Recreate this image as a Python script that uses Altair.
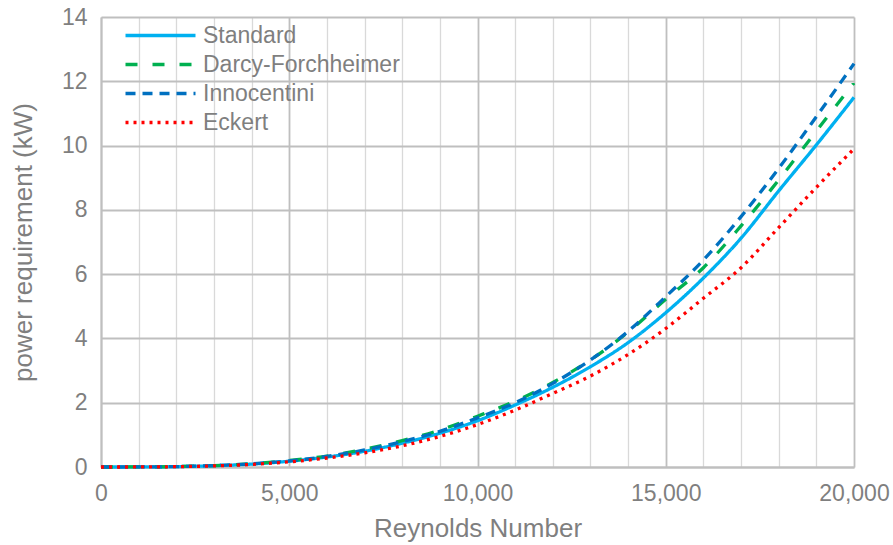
import altair as alt
import pandas as pd

reynolds = [0, 1000, 2000, 3000, 4000, 5000, 6000, 7000, 8000, 9000, 10000,
            11000, 12000, 13000, 14000, 15000, 16000, 17000, 18000, 19000, 20000]
standard = [0, 0.0014, 0.012, 0.04, 0.09, 0.18, 0.31, 0.49, 0.74, 1.05, 1.44,
            1.93, 2.48, 3.12, 3.87, 4.8, 5.88, 7.12, 8.59, 10.02, 11.5]
darcy = [0, 0.002, 0.013, 0.045, 0.10, 0.20, 0.34, 0.55, 0.82, 1.15, 1.58,
         2.05, 2.63, 3.33, 4.2, 5.22, 6.2, 7.5, 8.93, 10.45, 11.95]
innocentini = [0, 0.002, 0.013, 0.044, 0.10, 0.19, 0.33, 0.53, 0.79, 1.11, 1.53,
               2.0, 2.6, 3.33, 4.22, 5.3, 6.44, 7.79, 9.29, 10.9, 12.55]
eckert = [0, 0.0012, 0.01, 0.035, 0.08, 0.16, 0.28, 0.44, 0.66, 0.95, 1.32,
          1.77, 2.29, 2.83, 3.5, 4.31, 5.25, 6.2, 7.45, 8.7, 9.9]

series_names = ["Standard", "Darcy-Forchheimer", "Innocentini", "Eckert"]
series_values = [standard, darcy, innocentini, eckert]
colors = ["#00B0F0", "#00B050", "#0070C0", "#FF0000"]
dashes = [[1, 0], [12, 15], [10, 7], [3, 5]]

rows = []
for order, (name, vals) in enumerate(zip(series_names, series_values)):
    for x, y in zip(reynolds, vals):
        rows.append({"Re": x, "P": y, "Series": name, "ord": order})
df = pd.DataFrame(rows)

grey = "#7F7F7F"
font = "Liberation Sans"

chart = alt.Chart(df).mark_line(strokeWidth=3.3, strokeCap="butt", interpolate="monotone").encode(
    x=alt.X("Re:Q", scale=alt.Scale(domain=[0, 20000], nice=False),
            axis=alt.Axis(title="Reynolds Number", values=list(range(0, 20001, 1000)),
                          labelExpr="datum.value % 5000 === 0 ? format(datum.value, ',') : ''",
                          ticks=False, grid=True,
                          gridColor={"condition": {"test": "datum.value % 5000 === 0", "value": "#BFBFBF"},
                                     "value": "#D9D9D9"},
                          gridWidth={"condition": {"test": "datum.value % 5000 === 0", "value": 1.8},
                                     "value": 1.3},
                          domainColor="#BFBFBF", domainWidth=1.8,
                          labelFontSize=23, labelColor=grey, labelFont=font, labelPadding=15,
                          labelFlush=False, labelOverlap=False,
                          titleFontSize=26, titleColor=grey, titleFont=font, titleFontWeight="normal",
                          titlePadding=10)),
    y=alt.Y("P:Q", scale=alt.Scale(domain=[0, 14], nice=False),
            axis=alt.Axis(title="power requirement (kW)", values=list(range(0, 15, 2)),
                          ticks=False, grid=True, gridColor="#BFBFBF", gridWidth=1.8,
                          domainColor="#BFBFBF", domainWidth=1.8,
                          labelFontSize=23, labelColor=grey, labelFont=font, labelPadding=14,
                          titleFontSize=26, titleColor=grey, titleFont=font, titleFontWeight="normal",
                          titlePadding=25)),
    color=alt.Color("Series:N", scale=alt.Scale(domain=series_names, range=colors),
                    sort=series_names,
                    legend=alt.Legend(title=None, orient="none", legendX=48, legendY=7,
                                      symbolType="M-5,0H5", symbolSize=196, symbolStrokeWidth=3.3,
                                      labelFontSize=23, labelColor=grey, labelFont=font,
                                      labelLimit=400, rowPadding=5, labelOffset=31, padding=0)),
    strokeDash=alt.StrokeDash("Series:N", scale=alt.Scale(domain=series_names, range=dashes),
                              sort=series_names, legend=None),
    order="ord:Q",
).properties(width=753, height=450)

chart = chart.configure_view(stroke=None).properties(
    autosize=alt.AutoSizeParams(type="none"),
    padding={"left": 101, "top": 17, "right": 39, "bottom": 78},
)

chart.save("out.html", embed_options={"renderer": "svg", "actions": False})
